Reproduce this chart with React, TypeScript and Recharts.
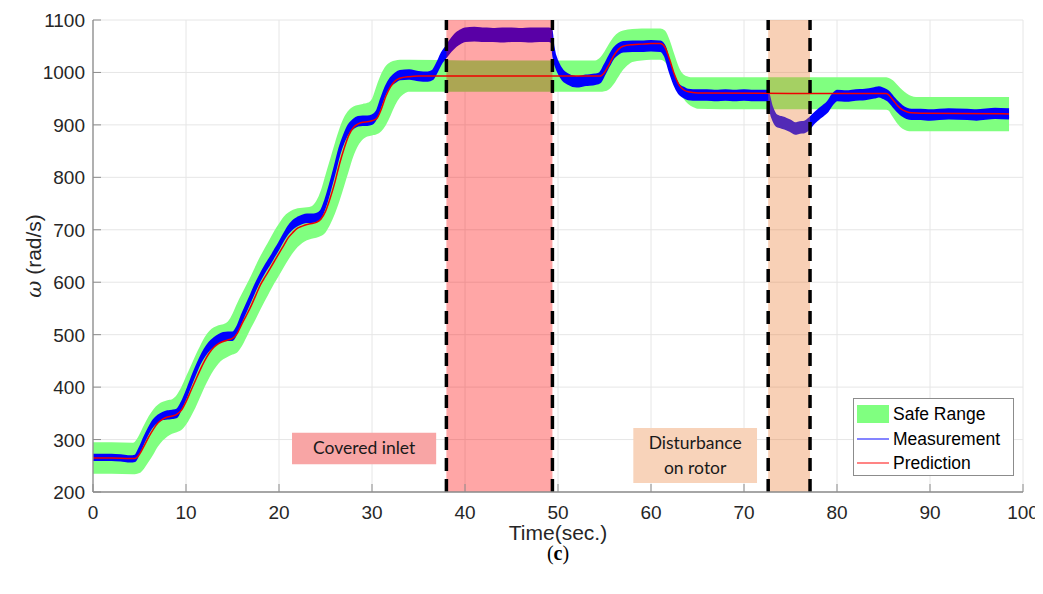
import React from 'react';
import {
  ComposedChart,
  Area,
  Line,
  XAxis,
  YAxis,
  CartesianGrid,
  ReferenceArea,
  ReferenceLine,
  Legend,
} from 'recharts';

// ---------------- data ----------------
const xTicks = [0, 10, 20, 30, 40, 50, 60, 70, 80, 90, 100];
const yTicks = [200, 300, 400, 500, 600, 700, 800, 900, 1000, 1100];

// [time, low, high]
const safeRangeRows: [number, number, number][] = [
  [0, 235, 295], [2, 235, 295], [4.3, 234, 294], [4.5, 234, 296], [5, 236, 310], [5.5, 245, 328],
  [6, 258, 345], [6.5, 272, 358], [7, 287, 367], [7.5, 298, 372], [8, 306, 375], [8.5, 311, 377],
  [9, 314, 385], [9.5, 318, 400], [10, 328, 420], [10.5, 343, 440], [11, 360, 460], [11.5, 380, 478],
  [12, 400, 495], [12.5, 418, 507], [13, 433, 514], [13.5, 445, 518], [14, 453, 520], [14.5, 458, 525],
  [15, 462, 540], [15.5, 466, 560], [16, 478, 578], [16.5, 495, 595], [17, 513, 613], [17.5, 530, 632],
  [18, 548, 650], [18.5, 565, 666], [19, 582, 682], [19.5, 598, 698], [20, 613, 712], [20.5, 628, 725],
  [21, 643, 733], [21.5, 656, 738], [22, 667, 741], [22.5, 675, 742], [23, 680, 743], [23.5, 683, 745],
  [24, 685, 755], [24.5, 688, 775], [25, 695, 805], [25.5, 710, 835], [26, 730, 865], [26.5, 755, 893],
  [27, 783, 915], [27.5, 812, 928], [28, 840, 935], [28.5, 860, 938], [29, 872, 940], [29.5, 878, 942],
  [30, 880, 950], [30.5, 882, 975], [31, 888, 998], [31.5, 900, 1013], [32, 918, 1020], [32.5, 938, 1023],
  [33, 952, 1024], [33.5, 960, 1024], [34, 963, 1024], [40, 963, 1023], [48, 963, 1023], [54, 963, 1023],
  [54.5, 963, 1028], [55, 964, 1040], [55.5, 968, 1055], [56, 978, 1068], [56.5, 992, 1076], [57, 1005, 1080],
  [57.5, 1014, 1082], [58, 1020, 1083], [59, 1023, 1084], [60, 1024, 1084], [61, 1024, 1084],
  [61.5, 1020, 1080], [62, 1005, 1062], [62.5, 985, 1035], [63, 965, 1010], [63.5, 950, 996],
  [64, 940, 992], [64.5, 934, 991], [65, 931, 991], [70, 930, 991], [75, 930, 991], [80, 930, 991],
  [85.3, 929, 991], [85.5, 928, 990], [86, 915, 985], [86.5, 902, 976], [87, 893, 967], [87.5, 889, 960],
  [88, 888, 955], [88.5, 888, 953], [93, 888, 953], [98.5, 888, 953],
];

// [time, low, high]
const measurementRows: [number, number, number][] = [
  [0, 261, 271], [1, 261, 271], [2, 261, 271], [3, 260, 270], [4, 258, 268], [4.5, 259, 269],
  [5, 276, 284], [5.5, 296, 304], [6, 314, 322], [6.5, 327, 337], [7, 334, 346], [7.5, 339, 351],
  [8, 340, 354], [8.5, 341, 355], [9, 343, 357], [9.5, 360, 370], [10, 380, 390], [10.5, 403, 413],
  [11, 425, 435], [11.5, 445, 455], [12, 460, 472], [12.5, 471, 485], [13, 479, 493], [13.5, 485, 499],
  [14, 489, 503], [14.5, 490, 504], [15, 490, 504], [15.5, 505, 515], [16, 527, 537], [16.5, 547, 557],
  [17, 567, 577], [17.5, 587, 597], [18, 605, 615], [18.5, 621, 631], [19, 635, 645], [19.5, 650, 660],
  [20, 665, 675], [20.5, 681, 691], [21, 694, 706], [21.5, 703, 717], [22, 709, 723], [22.5, 713, 727],
  [23, 715, 729], [23.5, 715, 729], [24, 716, 730], [24.5, 724, 736], [25, 746, 758], [25.5, 776, 788],
  [26, 809, 821], [26.5, 844, 856], [27, 869, 881], [27.5, 886, 900], [28, 894, 910], [28.5, 899, 915],
  [29, 900, 916], [29.5, 900, 916], [30, 902, 918], [30.5, 914, 926], [31, 939, 951], [31.5, 962, 974],
  [32, 975, 989], [32.5, 982, 998], [33, 987, 1003], [34, 988, 1004], [35, 985, 1001], [36, 984, 1000],
  [36.5, 987, 1003], [37, 1002, 1018], [37.5, 1019, 1037], [38, 1030, 1050], [38.5, 1041, 1063],
  [39, 1050, 1074], [39.5, 1056, 1080], [40, 1060, 1084], [41, 1061, 1085], [42, 1060, 1084],
  [43, 1060, 1083], [44, 1059, 1084], [45, 1060, 1084], [46, 1060, 1083], [47, 1059, 1084],
  [48, 1060, 1084], [49, 1060, 1084], [49.3, 1058, 1082], [49.5, 1030, 1050], [50, 1001, 1019],
  [50.5, 986, 1004], [51, 979, 997], [52, 973, 991], [53, 976, 994], [54, 978, 996], [54.5, 981, 999],
  [55, 996, 1014], [55.5, 1013, 1031], [56, 1028, 1046], [56.5, 1036, 1054], [57, 1040, 1058],
  [58, 1041, 1059], [59, 1041, 1059], [60, 1042, 1060], [61, 1041, 1059], [61.5, 1031, 1049],
  [62, 1002, 1018], [62.5, 977, 993], [63, 960, 976], [63.5, 953, 971], [64, 949, 967], [65, 948, 966],
  [66, 948, 966], [67, 947, 965], [68, 948, 966], [69, 947, 965], [70, 948, 966], [71, 947, 965],
  [72, 947, 965], [72.5, 947, 965], [73, 915, 935], [73.5, 898, 918], [74, 895, 915], [74.5, 892, 912],
  [75, 888, 908], [75.5, 883, 903], [76, 885, 905], [76.5, 886, 906], [77, 892, 912], [77.5, 903, 921],
  [78, 911, 929], [78.5, 918, 936], [79, 926, 944], [79.5, 939, 957], [80, 947, 965], [81, 946, 964],
  [82, 948, 966], [83, 949, 967], [84, 952, 970], [84.5, 954, 972], [85, 951, 969], [85.5, 946, 964],
  [86, 936, 954], [86.5, 926, 944], [87, 918, 936], [87.5, 913, 931], [88, 911, 929], [89, 911, 929],
  [90, 910, 928], [92, 912, 930], [94, 911, 929], [95, 910, 928], [97, 913, 931], [98.5, 912, 930],
];

// [time, value]
const predictionRows: [number, number][] = [
  [0, 265], [2, 265], [4, 264], [4.5, 264], [5, 272], [5.5, 288], [6, 305], [6.5, 320], [7, 332],
  [7.5, 339], [8, 343], [8.5, 345], [9, 348], [9.5, 356], [10, 372], [10.5, 392], [11, 412], [11.5, 432],
  [12, 450], [12.5, 465], [13, 476], [13.5, 483], [14, 487], [14.5, 490], [15, 493], [15.5, 502],
  [16, 520], [16.5, 537], [17, 555], [17.5, 575], [18, 595], [18.5, 610], [19, 625], [19.5, 640],
  [20, 655], [20.5, 670], [21, 685], [21.5, 695], [22, 703], [22.5, 707], [23, 710], [23.5, 712],
  [24, 714], [24.5, 720], [25, 735], [25.5, 760], [26, 790], [26.5, 825], [27, 855], [27.5, 880],
  [28, 895], [28.5, 902], [29, 905], [29.5, 906], [30, 908], [30.5, 912], [31, 930], [31.5, 955],
  [32, 973], [32.5, 984], [33, 989], [34, 992], [35, 993], [45, 993], [54.5, 993], [55, 1000],
  [55.5, 1015], [56, 1032], [56.5, 1044], [57, 1050], [58, 1053], [59, 1054], [60, 1055], [61, 1055],
  [61.5, 1048], [62, 1025], [62.5, 997], [63, 977], [63.5, 967], [64, 963], [65, 961], [75, 960],
  [85.3, 960], [85.5, 958], [86, 948], [86.5, 937], [87, 929], [87.5, 925], [88, 923], [89, 922],
  [98.5, 921],
];

const coveredInletSpan = [38, 49.4];
const disturbanceSpan = [72.6, 77.1];
const coveredNoteBox = { x: [21.4, 36.9], y: [253, 313], lines: ['Covered inlet'] };
const disturbanceNoteBox = { x: [58.1, 71.4], y: [217, 322], lines: ['Disturbance', 'on rotor'] };

const safeData = safeRangeRows.map(([t, lo, hi]) => ({ t, safe: [lo, hi] }));
const measData = measurementRows.map(([t, lo, hi]) => ({ t, meas: [lo, hi] }));
const predData = predictionRows.map(([t, v]) => ({ t, pred: v }));

// ---------------- styling helpers ----------------
const AXIS = '#8c8c8c';
const TXT = '#262626';
const SANS = "'Liberation Sans', Arial, sans-serif";

const BottomTick = (p: any) => (
  <g>
    <line x1={p.x} x2={p.x} y1={p.y} y2={p.y - 8} stroke={AXIS} />
    <text x={p.x} y={p.y + 27} textAnchor="middle" fontFamily={SANS} fontSize={19} fill={TXT}>
      {p.payload.value}
    </text>
  </g>
);
const LeftTick = (p: any) => (
  <g>
    <line x1={p.x} x2={p.x + 8} y1={p.y} y2={p.y} stroke={AXIS} />
    <text x={p.x - 8} y={p.y + 7} textAnchor="end" fontFamily={SANS} fontSize={19} fill={TXT}>
      {p.payload.value}
    </text>
  </g>
);
const TopTick = (p: any) => (
  <line x1={p.x} x2={p.x} y1={p.y} y2={p.y + 8} stroke={AXIS} />
);
const RightTick = (p: any) => (
  <line x1={p.x} x2={p.x - 8} y1={p.y} y2={p.y} stroke={AXIS} />
);

const NoteLabel = (lines: string[]) => (p: any) => {
  const vb = p.viewBox;
  const cx = vb.x + vb.width / 2;
  const cy = vb.y + vb.height / 2;
  const lh = 25;
  const start = cy - ((lines.length - 1) * lh) / 2;
  return (
    <g>
      {lines.map((l, i) => (
        <text key={i} x={cx} y={start + i * lh + 6} textAnchor="middle" fontFamily="Lato, 'Open Sans', sans-serif" fontSize={17.5} fill="#1a1a1a">
          {l}
        </text>
      ))}
    </g>
  );
};

const XLabel = (p: any) => {
  const vb = p.viewBox;
  const cx = vb.x + vb.width / 2;
  return (
    <g>
      <text x={cx} y={vb.y + 48} textAnchor="middle" fontFamily={SANS} fontSize={21} fill={TXT}>
        Time(sec.)
      </text>
      <text x={cx} y={vb.y + 68} textAnchor="middle" fontFamily="'Liberation Serif', 'DejaVu Serif', serif" fontSize={20} fill="#000">
        (<tspan fontWeight="bold">c</tspan>)
      </text>
    </g>
  );
};

const YLabel = (p: any) => {
  const vb = p.viewBox;
  const cx = vb.x + 8;
  const cy = vb.y + vb.height / 2;
  return (
    <text transform={`translate(${cx},${cy}) rotate(-90)`} textAnchor="middle" fontFamily={SANS} fontSize={21} fill={TXT}>
      <tspan fontStyle="italic" fontFamily="'DejaVu Serif', serif">ω</tspan> (rad/s)
    </text>
  );
};

const LegendBox = () => (
  <div
    style={{
      position: 'relative',
      width: 161,
      height: 78,
      boxSizing: 'border-box',
      border: '1px solid #8c8c8c',
      background: '#fff',
      fontFamily: SANS,
      fontSize: 17.5,
      color: '#000',
    }}
  >
    {[
      { label: 'Safe Range', kind: 'rect', color: '#80FF80' },
      { label: 'Measurement', kind: 'line', color: '#3333FF' },
      { label: 'Prediction', kind: 'line', color: '#FF3333' },
    ].map((e, i) => (
      <div key={i} style={{ position: 'absolute', left: 2, top: 3 + i * 24.5, height: 24, display: 'flex', alignItems: 'center' }}>
        <svg width={33} height={24} style={{ display: 'block' }}>
          {e.kind === 'rect' ? (
            <rect x={1} y={3} width={32} height={18} fill={e.color} />
          ) : (
            <line x1={1} x2={33} y1={12} y2={12} stroke={e.color} strokeWidth={1.2} />
          )}
        </svg>
        <span style={{ marginLeft: 4, lineHeight: '24px' }}>{e.label}</span>
      </div>
    ))}
  </div>
);

export default function App() {
  return (
    <ComposedChart width={1035} height={578} margin={{ top: 12, right: 20, left: 25, bottom: 64 }}>
      <CartesianGrid stroke="#e6e6e6" strokeWidth={1} />
      <XAxis
        xAxisId={0}
        dataKey="t"
        type="number"
        domain={[0, 100]}
        ticks={xTicks}
        allowDataOverflow
        height={30}
        tickSize={0}
        tickMargin={0}
        tickLine={false}
        axisLine={{ stroke: AXIS, strokeWidth: 1.3 }}
        tick={BottomTick}
        label={XLabel}
      />
      <XAxis
        xAxisId="top"
        orientation="top"
        type="number"
        domain={[0, 100]}
        ticks={xTicks}
        height={0}
        tickSize={0}
        tickMargin={0}
        tickLine={false}
        axisLine={{ stroke: AXIS, strokeWidth: 1.3 }}
        tick={TopTick}
      />
      <YAxis
        yAxisId={0}
        type="number"
        domain={[200, 1100]}
        ticks={yTicks}
        allowDataOverflow
        width={60}
        tickSize={0}
        tickMargin={0}
        tickLine={false}
        axisLine={{ stroke: AXIS, strokeWidth: 1.3 }}
        tick={LeftTick}
        label={YLabel}
      />
      <YAxis
        yAxisId="right"
        orientation="right"
        type="number"
        domain={[200, 1100]}
        ticks={yTicks}
        width={0}
        tickSize={0}
        tickMargin={0}
        tickLine={false}
        axisLine={{ stroke: AXIS, strokeWidth: 1.3 }}
        tick={RightTick}
      />

      <Area
        data={safeData}
        dataKey="safe"
        type="monotone"
        fill="#80FF80"
        fillOpacity={1}
        stroke="none"
        isAnimationActive={false}
        zIndex={100}
      />
      <Area
        data={measData}
        dataKey="meas"
        type="monotone"
        fill="#0000FF"
        fillOpacity={1}
        stroke="#0000FF"
        strokeWidth={2}
        isAnimationActive={false}
        zIndex={110}
      />

      <ReferenceArea x1={coveredInletSpan[0]} x2={coveredInletSpan[1]} fill="#FF0000" fillOpacity={0.35} stroke="none" zIndex={150} />
      <ReferenceArea x1={disturbanceSpan[0]} x2={disturbanceSpan[1]} fill="rgb(235,120,45)" fillOpacity={0.35} stroke="none" zIndex={150} />

      <ReferenceArea
        x1={coveredNoteBox.x[0]}
        x2={coveredNoteBox.x[1]}
        y1={coveredNoteBox.y[0]}
        y2={coveredNoteBox.y[1]}
        fill="#F8A5A5"
        fillOpacity={1}
        stroke="none"
        zIndex={150}
        label={NoteLabel(coveredNoteBox.lines)}
      />
      <ReferenceArea
        x1={disturbanceNoteBox.x[0]}
        x2={disturbanceNoteBox.x[1]}
        y1={disturbanceNoteBox.y[0]}
        y2={disturbanceNoteBox.y[1]}
        fill="#F8D3BA"
        fillOpacity={1}
        stroke="none"
        zIndex={150}
        label={NoteLabel(disturbanceNoteBox.lines)}
      />

      <Line
        data={predData}
        dataKey="pred"
        type="monotone"
        stroke="#F00000"
        strokeWidth={1.5}
        dot={false}
        isAnimationActive={false}
        zIndex={400}
      />

      {[coveredInletSpan[0], coveredInletSpan[1], disturbanceSpan[0], disturbanceSpan[1]].map((x, i) => (
        <ReferenceLine key={i} x={x} stroke="#000" strokeWidth={3.5} strokeDasharray="13 8" zIndex={450} />
      ))}

      <Legend
        layout="vertical"
        align="center"
        verticalAlign="middle"
        content={() => <LegendBox />}
        wrapperStyle={{ left: 845, top: 390, width: 161, height: 78 }}
      />
    </ComposedChart>
  );
}
